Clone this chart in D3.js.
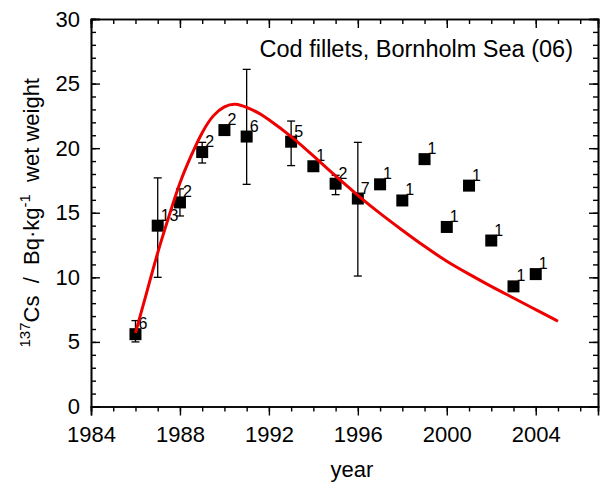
<!DOCTYPE html>
<html>
<head>
<meta charset="utf-8">
<script src="https://cdn.jsdelivr.net/npm/d3@7"></script>
<style>
  body { margin: 0; background: #fff; }
  svg { display: block; font-family: "Liberation Sans", Arial, sans-serif; }
</style>
</head>
<body>
<svg id="chart"></svg>
<script>
// measured points (year, value, error up/down, number of samples)
var years   = [1986, 1987, 1988, 1989, 1990, 1991, 1993, 1994, 1995, 1996, 1997, 1998, 1999, 2000, 2001, 2002, 2003, 2004];
var values  = [5.6, 14.0, 15.8, 19.7, 21.4, 20.9, 20.5, 18.6, 17.25, 16.1, 17.2, 15.95, 19.15, 13.9, 17.1, 12.85, 9.3, 10.25];
var errUp   = [1.05, 3.7, 1.05, 0.75, 0, 5.2, 1.6, 0, 0.65, 4.35, 0, 0, 0, 0, 0, 0, 0, 0];
var errDown = [0.6, 4.0, 1.05, 0.85, 0, 3.7, 1.85, 0, 0.85, 6.0, 0, 0, 0, 0, 0, 0, 0, 0];
var counts  = ["6", "13", "2", "2", "2", "6", "5", "1", "2", "7", "1", "1", "1", "1", "1", "1", "1", "1"];

// model curve (red line)
var curveYears = [1986, 1986.5, 1987, 1987.5, 1988, 1988.5, 1989, 1989.5, 1990, 1990.5, 1991, 1991.5, 1992, 1993, 1994, 1995, 1996, 1997, 1998, 1999, 2000, 2001, 2002, 2003, 2004, 2005];
var curveVals  = [5.7, 8.8, 11.9, 14.7, 17.3, 19.4, 21.2, 22.5, 23.2, 23.4, 23.15, 22.75, 22.2, 20.9, 19.4, 17.85, 16.35, 14.95, 13.65, 12.4, 11.25, 10.25, 9.3, 8.4, 7.5, 6.6];

var xTicks = [1984, 1988, 1992, 1996, 2000, 2004];
var yTicks = [0, 5, 10, 15, 20, 25, 30];
var title = "Cod fillets, Bornholm Sea (06)";

var svgWidth = 600, svgHeight = 490;
var margin = { top: 19, right: 2, bottom: 83.5, left: 91 };
var width = svgWidth - margin.left - margin.right;
var height = svgHeight - margin.top - margin.bottom;

var svg = d3.select("#chart")
    .attr("width", svgWidth)
    .attr("height", svgHeight);

var g = svg.append("g")
    .attr("transform", "translate(" + margin.left + "," + margin.top + ")");

var x = d3.scaleLinear().domain([1984, 2006.8]).range([0, width]);
var y = d3.scaleLinear().domain([0, 30]).range([height, 0]);

var minorX = d3.range(1984, 2007, 1);
var minorY = d3.range(0, 31, 1);

// bottom axis (ticks outside)
g.append("g")
    .attr("class", "axis")
    .attr("transform", "translate(0," + height + ")")
    .call(d3.axisBottom(x).tickValues(minorX).tickSize(5).tickFormat(""));
g.append("g")
    .attr("class", "axis")
    .attr("transform", "translate(0," + height + ")")
    .call(d3.axisBottom(x).tickValues(xTicks).tickSize(9).tickPadding(11).tickFormat(d3.format("d")));

// top axis (ticks inside)
g.append("g")
    .attr("class", "axis")
    .call(d3.axisTop(x).tickValues(minorX).tickSize(-5).tickFormat(""));
g.append("g")
    .attr("class", "axis")
    .call(d3.axisTop(x).tickValues(xTicks).tickSize(-9).tickFormat(""));

// left axis (ticks inside)
g.append("g")
    .attr("class", "axis")
    .call(d3.axisLeft(y).tickValues(minorY).tickSize(-5).tickFormat(""));
g.append("g")
    .attr("class", "axis")
    .call(d3.axisLeft(y).tickValues(yTicks).tickSize(-9).tickPadding(11).tickFormat(d3.format("d")));

// right axis (ticks inside)
g.append("g")
    .attr("class", "axis")
    .attr("transform", "translate(" + width + ",0)")
    .call(d3.axisRight(y).tickValues(minorY).tickSize(-5).tickFormat(""));
g.append("g")
    .attr("class", "axis")
    .attr("transform", "translate(" + width + ",0)")
    .call(d3.axisRight(y).tickValues(yTicks).tickSize(-9).tickFormat(""));

g.selectAll(".axis path").attr("stroke", "#000").attr("stroke-width", 1.6);
g.selectAll(".axis line").attr("stroke", "#000").attr("stroke-width", 1.4);
g.selectAll(".axis text").attr("fill", "#000").style("font-size", "22px").style("font-family", "Liberation Sans, Arial, sans-serif");

// error bars
var pts = years.map(function(yr, i) {
  return { year: yr, value: values[i], up: errUp[i], down: errDown[i], n: counts[i] };
});
var withErr = pts.filter(function(d) { return d.up > 0 || d.down > 0; });
var eb = g.append("g").attr("stroke", "#000").attr("stroke-width", 1.3);
withErr.forEach(function(d) {
  var cx = x(d.year);
  eb.append("line").attr("x1", cx).attr("x2", cx).attr("y1", y(d.value + d.up)).attr("y2", y(d.value - d.down));
  eb.append("line").attr("x1", cx - 4).attr("x2", cx + 4).attr("y1", y(d.value + d.up)).attr("y2", y(d.value + d.up));
  eb.append("line").attr("x1", cx - 4).attr("x2", cx + 4).attr("y1", y(d.value - d.down)).attr("y2", y(d.value - d.down));
});

// squares
g.append("g").selectAll("rect")
    .data(pts)
    .enter().append("rect")
    .attr("x", function(d) { return x(d.year) - 6; })
    .attr("y", function(d) { return y(d.value) - 6; })
    .attr("width", 12)
    .attr("height", 12)
    .attr("fill", "#000");

// sample counts
g.append("g").selectAll("text")
    .data(pts)
    .enter().append("text")
    .attr("x", function(d) { return x(d.year) + 3; })
    .attr("y", function(d) { return y(d.value) - 5; })
    .style("font-size", "16px")
    .attr("fill", "#000")
    .text(function(d) { return d.n; });

// red curve
var line = d3.line()
    .x(function(d, i) { return x(curveYears[i]); })
    .y(function(d) { return y(d); })
    .curve(d3.curveNatural);

g.append("path")
    .datum(curveVals)
    .attr("fill", "none")
    .attr("stroke", "#ee0000")
    .attr("stroke-width", 3)
    .attr("stroke-linejoin", "round")
    .attr("d", line);

// title
g.append("text")
    .attr("x", x(2006.8) - 25)
    .attr("y", 38)
    .attr("text-anchor", "end")
    .style("font-size", "23.5px")
    .text(title);

// x label
svg.append("text")
    .attr("x", 352)
    .attr("y", 477)
    .attr("text-anchor", "middle")
    .style("font-size", "22px")
    .text("year");

// y label with superscripts
var yl = svg.append("text")
    .attr("transform", "translate(39," + (margin.top + height / 2) + ") rotate(-90)")
    .attr("text-anchor", "middle")
    .style("font-size", "22px")
    .style("white-space", "pre");
yl.append("tspan").attr("dy", "-9").style("font-size", "15px").text("137");
yl.append("tspan").attr("dy", "9").text("Cs  /  Bq\u00b7kg");
yl.append("tspan").attr("dy", "-9").style("font-size", "15px").text("-1");
yl.append("tspan").attr("dy", "9").text("  wet weight");
</script>
</body>
</html>
